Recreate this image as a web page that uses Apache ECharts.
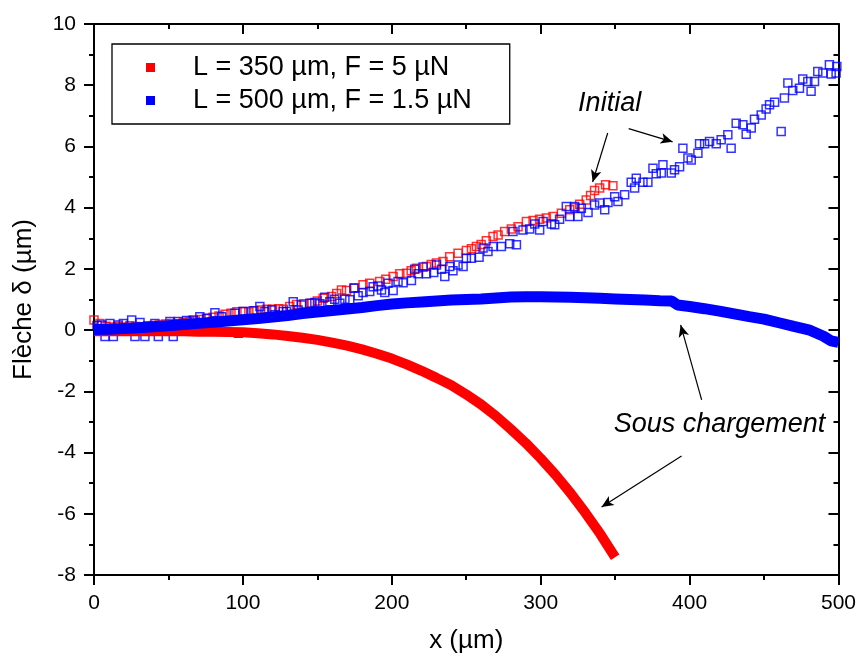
<!DOCTYPE html>
<html><head><meta charset="utf-8">
<script src="https://cdn.jsdelivr.net/npm/echarts@6/dist/echarts.min.js"></script>
<style>html,body{margin:0;padding:0;background:#fff}#c{width:859px;height:661px}</style>
</head><body><div id="c"></div>
<script>
// ---------- data ----------
const xTitle = 'x (µm)';
const yTitle = 'Flèche δ (µm)';
const seriesNames = ['L = 350 µm, F = 5 µN', 'L = 500 µm, F = 1.5 µN'];
const xRange = [0, 500, 100];
const yRange = [-8, 10, 2];

// under load (filled, thick)
const redLoadedX = [0,10,20,30,40,50,60,70,80,90,100,110,120,130,140,150,160,170,180,190,200,210,220,230,240,250,260,270,280,290,300,310,320,330,340,350];
const redLoadedY = [-0.04,-0.04,-0.04,-0.04,-0.04,-0.04,-0.04,-0.05,-0.05,-0.06,-0.07,-0.10,-0.14,-0.19,-0.25,-0.32,-0.41,-0.51,-0.63,-0.77,-0.93,-1.12,-1.33,-1.56,-1.80,-2.10,-2.43,-2.81,-3.24,-3.69,-4.19,-4.73,-5.32,-5.97,-6.66,-7.42];
const blueLoadedX = [0,10,20,30,40,50,60,70,80,90,100,110,120,130,140,150,160,170,180,190,200,210,220,230,240,250,260,270,280,290,300,310,320,330,340,350,360,370,380,388,392,400,410,420,430,440,450,460,470,480,490,495,500];
const blueLoadedY = [0.02,0.03,0.05,0.08,0.11,0.14,0.18,0.22,0.26,0.30,0.34,0.38,0.43,0.48,0.54,0.59,0.64,0.69,0.74,0.80,0.85,0.89,0.92,0.95,0.98,1.00,1.02,1.05,1.08,1.09,1.09,1.08,1.07,1.06,1.04,1.02,1.00,0.98,0.96,0.95,0.82,0.77,0.70,0.62,0.53,0.44,0.36,0.24,0.12,0.01,-0.20,-0.35,-0.40];

// initial (open squares)
const redInitial = [[0,0.33],[4,0.22],[8,0.13],[12,0.1],[16,0.12],[20,0.1],[24,0.14],[28,0.12],[32,0.1],[36,0.14],[40,0.15],[44,0.17],[48,0.2],[52,0.22],[56,0.21],[60,0.25],[64,0.28],[68,0.3],[72,0.35],[76,0.38],[80,0.42],[84,0.46],[88,0.52],[92,0.55],[96,0.6],[100,0.61],[104,0.6],[108,0.63],[112,0.66],[116,0.68],[120,0.68],[124,0.7],
[127.1,0.68],[131.5,0.77],[136,0.84],[141,0.86],[146.1,0.88],[150,0.95],[153.9,1.04],[159.5,1.10],[163,1.2],[166.2,1.31],[169.6,1.29],[175,1.38],[180.7,1.48],[185.2,1.53],[191.9,1.59],[196,1.66],[200.9,1.75],[205.4,1.84],[209.9,1.86],[213,1.94],[216.6,2.02],[223.3,2.08],[226.5,2.14],[230,2.19],[234.4,2.24],[238.9,2.40],[244.5,2.51],[250.1,2.60],[253.5,2.66],[256.8,2.73],[260,2.80],[263.5,2.92],[268,3.06],[271.4,3.11],[275.8,3.22],[280.3,3.30],[284.8,3.38],[290.4,3.55],[294.9,3.58],[299.3,3.62],[303.8,3.66],[308.3,3.71],[313.9,3.82],[319.5,3.93],[323,4.0],[326.2,4.11],[330.6,4.25],[333.5,4.40],[336.2,4.56],[339.6,4.64],[343.6,4.75],[348.5,4.72]];
const blueInitial = [[2,0.15],[5.1,0.17],[7.4,-0.21],[10.7,0.22],[13,-0.21],[16.3,0.17],[19.7,0.22],[25.3,0.33],[27.5,-0.21],[30.9,0.25],[34.2,-0.21],[40.9,0.22],[43.2,-0.21],[51,0.28],[53.2,-0.21],[56.6,0.28],[62.2,0.31],[66.6,0.33],[71.1,0.44],[75.6,0.39],[81.2,0.57],[85.7,0.44],[94.6,0.55],[97,-0.1],[100.2,0.61],[106.9,0.63],[111.4,0.77],[114.8,0.61],[119.3,0.66],[121.5,0.50],[127.1,0.61],
[129.3,0.61],[133.8,0.93],[137.1,0.66],[139.4,0.82],[145,0.88],[148.3,0.90],[151.7,0.86],[155,1.07],[158.4,0.93],[161.7,1.01],[165.1,0.88],[168.5,1.01],[171.8,0.99],[174.5,1.37],[177.4,1.12],[180.7,1.23],[185.2,1.26],[187.5,1.42],[190.8,1.44],[193.1,1.31],[195.3,1.23],[197.5,1.53],[200.9,1.29],[204.2,1.59],[207.6,1.55],[213.2,1.62],[215.4,1.99],[217.7,1.84],[221,2.06],[223.3,1.84],[228.2,1.88],[230,2.13],[233.4,1.99],[235.6,1.75],[238.9,2.08],[241.1,1.94],[244.5,2.13],[247.9,2.08],[250.1,2.35],[253.5,2.35],[258.6,2.38],[261.3,2.68],[264.6,2.57],
[268,2.73],[273.6,2.73],[279.2,2.82],[281.4,3.22],[283.7,2.79],[288.1,3.27],[292.6,3.30],[296,3.47],[299.3,3.27],[301.6,3.55],[307.2,3.47],[309.4,3.44],[312.7,3.62],[317.2,4.04],[319.5,3.71],[322.8,4.04],[325,3.71],[327.3,3.98],[331.8,3.84],[336.2,4.09],[339.6,4.15],[343,3.93],[345.2,4.17],[349.7,4.36],[351.9,4.20],[356.4,4.42],[360.8,4.83],[363.1,4.64],[364.2,4.96],[368.7,4.83],[372,4.83],[375.4,5.29],[377.6,5.11],[381,5.13],[382.1,5.40],[387.7,5.13],[389.9,5.24],[393.3,5.34],[395.5,5.94],[398.9,5.62],[401.1,5.56],[405.6,5.78],[406.7,6.09],[410.1,6.09],[413.4,6.16],[417.9,6.09],[421.2,6.22],[425.7,6.38],[427.9,5.94],[431.3,6.76],[435.8,6.71],[438,6.40],[441.4,6.60],[443.6,6.89],[448.1,7.03],[451.4,7.22],[453.7,7.36],[457.1,7.44],[461.5,6.49],[463.7,7.58],[466,8.07],[469.3,7.83],[473.8,7.90],[476,8.20],[479.4,8.12],[481.6,7.80],[483.9,8.12],[486.1,8.45],[489.5,8.40],[493.9,8.67],[495.1,8.37],[498.4,8.40],[498.9,8.61]];

// annotations (data coordinates)
const annotationTexts = [['Initial', 346.3, 7.39], ['Sous chargement', 420.1, -3.07]];
const annotationArrows = [[[345, 6.44], [334.9, 4.84]], [[359.1, 6.58], [388.6, 6.15]], [[408.1, -2.28], [394.0, 0.17]], [[394.6, -4.11], [340.9, -5.78]]];

// ---------- chart ----------
const FONT = '"Liberation Sans", Arial, sans-serif';
const zip = (xs, ys) => xs.map((x, i) => [x, ys[i]]);
const lineBlack = { color: '#000', width: 2 };

function axis(kind, pos, labels) {
  const r = kind === 'x' ? xRange : yRange;
  const a = {
    type: 'value', position: pos, min: r[0], max: r[1], interval: r[2],
    axisLine: { show: true, onZero: false, lineStyle: lineBlack },
    axisTick: { show: true, inside: !labels, length: 10, lineStyle: lineBlack },
    minorTick: { show: true, splitNumber: 2, length: 5, lineStyle: lineBlack },
    splitLine: { show: false }, minorSplitLine: { show: false },
    axisLabel: { show: labels, margin: 18, fontSize: 21, color: '#000', fontFamily: FONT }
  };
  if (labels) {
    a.name = kind === 'x' ? xTitle : yTitle;
    a.nameLocation = 'middle';
    a.nameGap = kind === 'x' ? 53 : 57;
    a.nameTextStyle = { fontSize: 26, color: '#000', fontFamily: FONT };
  }
  return a;
}

const openSquare = (c) => ({ color: 'rgba(255,255,255,0)', borderColor: c, borderWidth: 1.5 });

const option = {
  animation: false,
  backgroundColor: '#fff',
  grid: { left: 94, right: 20, top: 24, bottom: 86 },
  xAxis: [axis('x', 'bottom', true), axis('x', 'top', false)],
  yAxis: [axis('y', 'left', true), axis('y', 'right', false)],
  legend: {
    data: seriesNames, orient: 'vertical', left: 112, top: 44,
    padding: [10, 38, 10, 34], itemGap: 6, itemWidth: 9, itemHeight: 9, icon: 'rect',
    borderColor: '#000', borderWidth: 1.3, backgroundColor: '#fff',
    itemStyle: { borderWidth: 0 },
    textStyle: { fontSize: 27, color: '#000', fontFamily: FONT, padding: [0, 0, 0, 33], lineHeight: 27 }
  },
  series: [
    { name: seriesNames[0] + ' (initial)', type: 'scatter', data: redInitial, symbol: 'rect', symbolSize: 8, itemStyle: openSquare('#ff0000'), z: 2 },
    { name: seriesNames[1] + ' (initial)', type: 'scatter', data: blueInitial, symbol: 'rect', symbolSize: 8, itemStyle: openSquare('#0000ff'), z: 3 },
    { name: seriesNames[0], type: 'line', data: zip(redLoadedX, redLoadedY), showSymbol: false, symbol: 'rect',
      lineStyle: { color: '#ff0000', width: 10 }, itemStyle: { color: '#ff0000' }, z: 4 },
    { name: seriesNames[1], type: 'line', data: zip(blueLoadedX, blueLoadedY), showSymbol: false, symbol: 'rect',
      lineStyle: { color: '#0000ff', width: 11 }, itemStyle: { color: '#0000ff' }, z: 5 },
    { name: 'annotations', type: 'scatter', data: [], z: 10,
      markLine: {
        silent: true, symbol: ['none', 'arrow'], symbolSize: 12, precision: 4,
        lineStyle: { color: '#000', width: 1.2, type: 'solid' },
        itemStyle: { color: '#000' },
        label: { show: false },
        data: annotationArrows.map(a => [
          { coord: a[0], symbol: 'none' },
          { coord: a[1], symbol: 'arrow', symbolSize: [8, 12], itemStyle: { color: '#000' } }
        ])
      },
      markPoint: {
        silent: true, symbol: 'circle', symbolSize: 1, itemStyle: { color: 'rgba(0,0,0,0)' },
        label: { show: true, position: 'inside', formatter: p => p.name, fontSize: 27, fontStyle: 'italic', color: '#000', fontFamily: FONT },
        data: annotationTexts.map(t => ({ name: t[0], coord: [t[1], t[2]] }))
      }
    }
  ]
};
const chart = echarts.init(document.getElementById('c'), null, { renderer: 'canvas' });
chart.setOption(option);
</script>
</body></html>
